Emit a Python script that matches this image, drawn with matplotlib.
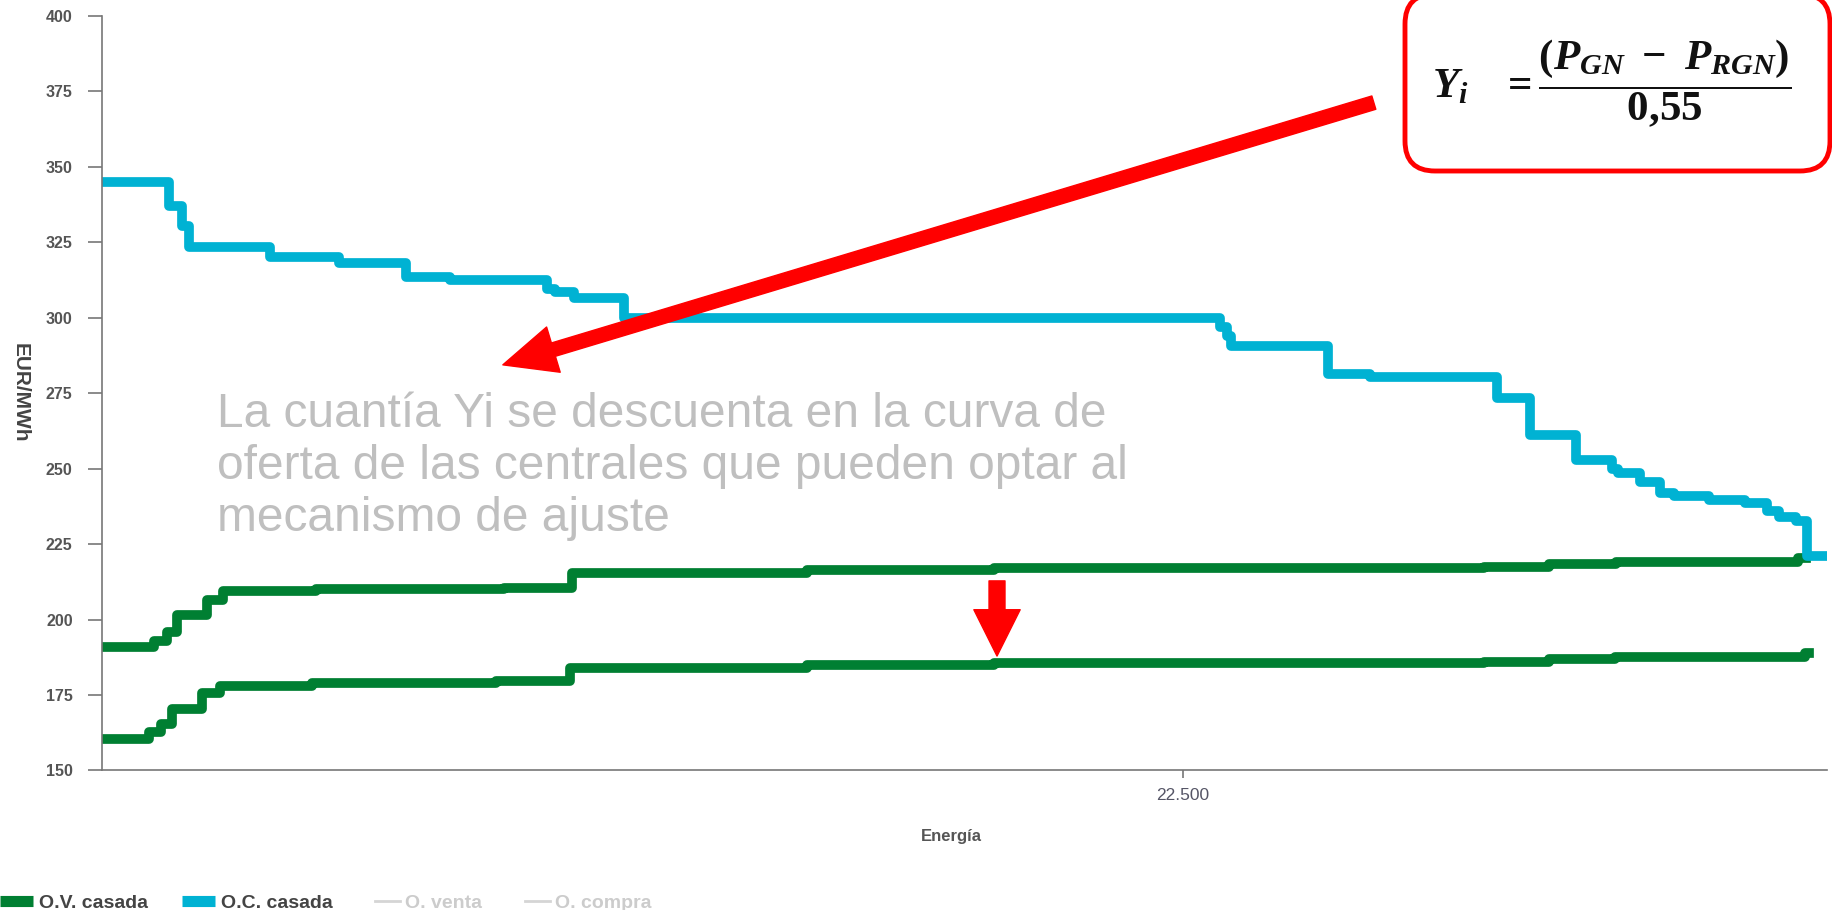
import matplotlib
matplotlib.use('Agg')
import matplotlib.pyplot as plt
from matplotlib.lines import Line2D
from matplotlib.legend_handler import HandlerLine2D
from matplotlib.patches import FancyBboxPatch
from matplotlib.transforms import IdentityTransform
from matplotlib import font_manager

# curva de compra casada (O.C. casada)
energia_oc = [0, 1390, 1670, 1810, 3500, 4930, 6330, 7240, 9270, 9430, 9830, 10860,
              23270, 23410, 23490, 25510, 26390, 29030, 29730, 30680, 31430, 31550,
              32010, 32420, 32710, 33450, 34190, 34650, 34900, 35270, 35480, 35900]
precio_oc = [345, 337, 330.5, 323.5, 320, 318, 313.5, 312.5, 309.5, 308.5, 306.5, 300,
             297, 294, 290.5, 281.5, 280.5, 273.5, 261, 253, 250, 248.5,
             245.5, 242, 241, 239.5, 238.5, 236, 234, 232.5, 221, 221]

# curva de venta casada (O.V. casada), original
energia_ov = [0, 1090, 1360, 1560, 2190, 2510, 4450, 8360, 9790, 14670, 18560,
              28770, 30110, 31510, 35310, 35460]
precio_ov = [191, 193, 196, 201.5, 206.5, 209.5, 210, 210.5, 215.5, 216.5, 217,
             217.5, 218.5, 219, 220.5, 220.5]

# curva de venta tras descontar Yi
energia_ov_aj = [60, 970, 1240, 1460, 2090, 2460, 4380, 8200, 9750, 14670, 18560,
                 28770, 30110, 31500, 35440, 35540]
precio_ov_aj = [160.5, 162.8, 165.5, 170.5, 175.5, 178, 179, 179.5, 184, 185, 185.5,
                186, 187, 187.5, 189, 189]

y_ticks = [150, 175, 200, 225, 250, 275, 300, 325, 350, 375, 400]
x_ticks = [22500]
x_tick_labels = ['22.500']
legend_labels = ['O.V. casada', 'O.C. casada', 'O. venta', 'O. compra']

texto = ('La cuantía Yi se descuenta en la curva de\n'
         'oferta de las centrales que pueden optar al\n'
         'mecanismo de ajuste')
formula = r'$Y_i\quad = \dfrac{(P_{GN}\ -\ P_{RGN})}{0{,}55}$'

verde = '#007f32'
azul = '#00b2d3'
rojo = '#ff0000'

names = {f.name for f in font_manager.fontManager.ttflist}
narrow = 'Liberation Sans Narrow' if 'Liberation Sans Narrow' in names else 'Liberation Sans'

plt.rcParams['font.family'] = ['Liberation Sans', 'DejaVu Sans']
plt.rcParams['mathtext.fontset'] = 'custom'
plt.rcParams['mathtext.rm'] = 'Liberation Serif:bold'
plt.rcParams['mathtext.it'] = 'Liberation Serif:italic:bold'
plt.rcParams['mathtext.bf'] = 'Liberation Serif:bold'

fig = plt.figure(figsize=(18.33, 9.10), dpi=100)
ax = fig.add_axes([0.0556, 0.1534, 0.941, 0.829])

ax.step(energia_ov, precio_ov, where='post', color=verde, lw=7)
ax.step(energia_ov_aj, precio_ov_aj, where='post', color=verde, lw=7)
ax.step(energia_oc, precio_oc, where='post', color=azul, lw=7)

ax.set_xlim(0, 35900)
ax.set_ylim(150, 400)
ax.set_yticks(y_ticks)
ax.set_xticks(x_ticks)
ax.set_xticklabels(x_tick_labels)

for s in ['top', 'right']:
    ax.spines[s].set_visible(False)
for s in ['left', 'bottom']:
    ax.spines[s].set_color('#777777')
    ax.spines[s].set_linewidth(1.2)

ax.tick_params(axis='y', length=10, width=1.2, color='#777777', pad=11,
               labelsize=11.5, labelcolor='#555555')
ax.tick_params(axis='x', length=6, width=1.2, color='#777777', pad=7,
               labelsize=12.5, labelcolor='#555566')
for lab in ax.get_yticklabels():
    lab.set_fontweight('bold')

ax.set_ylabel('EUR/MWh', rotation=-90, fontsize=15, fontweight='bold', color='#444444')
ax.yaxis.set_label_coords(-0.0475, 0.5)
ax.yaxis.label.set_va('center')
ax.set_xlabel('Energía', fontsize=12, fontweight='bold', color='#555555')
ax.xaxis.set_label_coords(0.4925, -0.087)
ax.xaxis.label.set_va('center')

# flecha grande hacia el texto
ax.annotate('', xy=(8345, 284.4), xytext=(26473, 371.3),
            arrowprops=dict(arrowstyle='simple,head_width=3.4,head_length=3.8,tail_width=1.0',
                            color=rojo, mutation_scale=10, shrinkA=0, shrinkB=0))
# flecha hacia abajo entre curvas
ax.annotate('', xy=(18630, 187.9), xytext=(18630, 212.8),
            arrowprops=dict(arrowstyle='simple,head_width=2.9,head_length=2.9,tail_width=1.0',
                            color=rojo, mutation_scale=11.5, shrinkA=0, shrinkB=0))

fig.text(217 / 1833, 1 - 392 / 910, texto, fontsize=34.5, color='#bfbfbf',
         ha='left', va='top', linespacing=1.2)

caja = FancyBboxPatch((1405, 910 - 171), 425, 177,
                      boxstyle='round,pad=0,rounding_size=30',
                      transform=IdentityTransform(), ec=rojo, fc='white', lw=3.5)
fig.add_artist(caja)
fig.text(0.879, 1 - 84 / 910, formula, fontsize=31, color='#111111', ha='center', va='center')

handles = [Line2D([], [], color=verde, lw=8, solid_capstyle='butt'),
           Line2D([], [], color=azul, lw=8, solid_capstyle='butt'),
           Line2D([], [], color='#d5d5d5', lw=2),
           Line2D([], [], color='#d5d5d5', lw=2)]
hmap = {handles[2]: HandlerLine2D(xpad=0.45), handles[3]: HandlerLine2D(xpad=0.45)}
leg = fig.legend(handles, legend_labels, loc='lower left', bbox_to_anchor=(0.0, -0.002),
                 ncol=4, frameon=False, handlelength=1.7, handletextpad=0.3,
                 columnspacing=1.75, borderpad=0.0, borderaxespad=0.0, handler_map=hmap,
                 prop={'family': narrow, 'weight': 'bold', 'size': 14})
for t, c in zip(leg.get_texts(), ['#444444', '#444444', '#cccccc', '#cccccc']):
    t.set_color(c)

fig.savefig('out.png', dpi=100)
